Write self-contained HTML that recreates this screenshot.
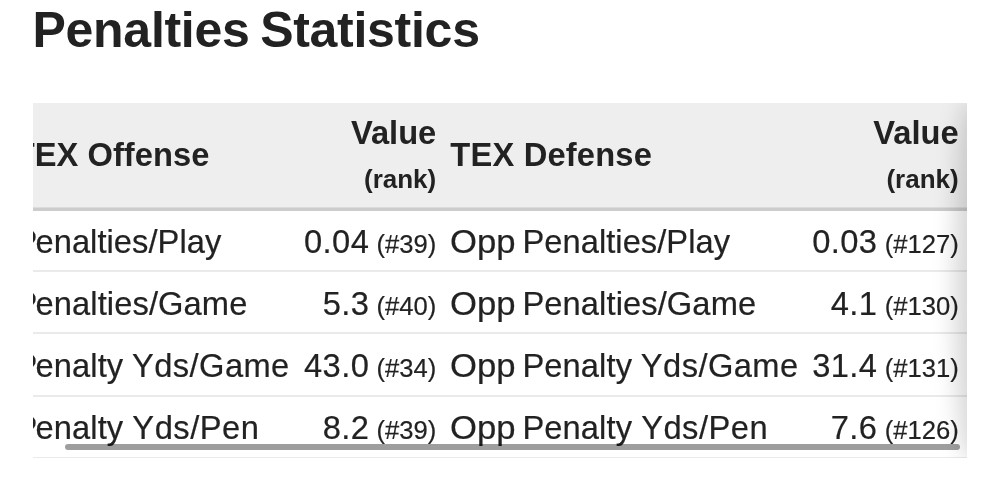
<!DOCTYPE html>
<html lang="en">
<head>
<meta charset="utf-8">
<title>Penalties Statistics</title>
<style>
  html, body { margin: 0; padding: 0; background: #fff; }
  body {
    width: 1000px; height: 483px; overflow: hidden; position: relative;
    font-family: "Liberation Sans", Arial, Helvetica, sans-serif;
    color: #222;
  }
  h2 {
    position: absolute; left: 32.5px; top: 3px; margin: 0;
    font-size: 50px; line-height: 54px; font-weight: bold; color: #222;
    white-space: nowrap; letter-spacing: -0.28px; word-spacing: -3px;
  }
  .scroller {
    position: absolute; left: 33px; top: 103px; width: 934px; height: 355px;
    overflow: hidden; background: #fff;
  }
  table {
    position: absolute; left: -26.75px; top: 0;
    border-collapse: separate; border-spacing: 0; table-layout: fixed; width: 961px;
    font-size: 32.67px;
  }
  th, td { padding: 0 8px; white-space: nowrap; overflow: visible; }
  thead th {
    background: #eee; border-bottom: 3px solid #ccc; box-shadow: inset 0 -1px 0 #dcdcdc;
    font-weight: bold; text-align: left; vertical-align: top; font-size: 32.67px;
    line-height: 46px; padding-top: 28.8px; padding-bottom: 0;
    letter-spacing: 0.2px;
  }
  thead th.c1 { letter-spacing: 0.05px; padding-left: 8.4px; }
  thead th.r { padding-top: 6.8px; padding-bottom: 6.2px; letter-spacing: 0; }
  th.k2, td.k2 { padding-right: 6px; }
  th.k4, td.k4 { padding-right: 8.6px; }
  thead th.r, td.r { text-align: right; }
  thead th small { display: block; font-size: 26px; line-height: 46px; letter-spacing: 0; }
  thead th .v { display: block; line-height: 46px; }
  tbody td {
    line-height: 40px; padding-top: 11px; padding-bottom: 9.13px;
    border-bottom: 2px solid #eaeaea; vertical-align: top;
    -webkit-text-stroke: 0.2px #222;
  }
  tbody tr:nth-child(1) td { padding-top: 11.2px; padding-bottom: 7.8px; }
  tbody tr:nth-child(2) td { padding-top: 11.6px; padding-bottom: 8.4px; }
  tbody tr:nth-child(3) td { padding-top: 11.7px; padding-bottom: 9.3px; }
  tbody tr:nth-child(4) td { padding-top: 10.9px; padding-bottom: 9.1px; }
  tbody td.r { letter-spacing: 0.4px; word-spacing: -2.2px; }
  tbody td.c1 { padding-left: 7.4px; }
  td small { font-size: 25.6px; line-height: 1; letter-spacing: 0; }
  .o { display: inline-block; transform-origin: 0 50%; transform: scaleX(1.062); margin-right: 1.4px; }
  .p1 { letter-spacing: 0.05px; } .p2 { letter-spacing: 0.1px; } .p3 { letter-spacing: 0.1px; }
  .y1 { letter-spacing: 0.42px; margin-left: -0.3px; } .y2 { letter-spacing: 0.5px; margin-left: 0; }
  tbody td.c1::first-letter { margin-left: 1.9px; margin-right: -1.9px; }
  .shadow {
    position: absolute; left: 100%; top: 0; width: 117px; height: 100%;
    border-radius: 13px 0 0 13px / 50% 0 0 50%;
    box-shadow: -11.7px 0 23.3px rgba(0,0,0,0.17);
  }
  .bar {
    position: absolute; left: 32px; top: 341px; width: 895px; height: 6px;
    border-radius: 3px; background: rgba(0,0,0,0.38);
  }
</style>
</head>
<body>
<h2>Penalties Statistics</h2>
<div class="scroller">
  <table>
    <colgroup><col style="width:286px"><col style="width:150px"><col style="width:360px"><col style="width:165px"></colgroup>
    <thead>
      <tr>
        <th class="c1">TEX Offense</th>
        <th class="r k2"><span class="v">Value</span> <small>(rank)</small></th>
        <th>TEX Defense</th>
        <th class="r k4"><span class="v">Value</span> <small>(rank)</small></th>
      </tr>
    </thead>
    <tbody>
      <tr><td class="c1"><span class="p1">Penalties/Play</span></td><td class="r k2">0.04 <small>(#39)</small></td><td><span class="o">Opp</span> <span class="p1">Penalties/Play</span></td><td class="r k4">0.03 <small>(#127)</small></td></tr>
      <tr><td class="c1"><span class="p2">Penalties/Game</span></td><td class="r k2">5.3 <small>(#40)</small></td><td><span class="o">Opp</span> <span class="p2">Penalties/Game</span></td><td class="r k4">4.1 <small>(#130)</small></td></tr>
      <tr><td class="c1"><span class="p3">Penalty</span> <span class="y1">Yds/Game</span></td><td class="r k2">43.0 <small>(#34)</small></td><td><span class="o">Opp</span> <span class="p3">Penalty</span> <span class="y1">Yds/Game</span></td><td class="r k4">31.4 <small>(#131)</small></td></tr>
      <tr><td class="c1"><span class="p3">Penalty</span> <span class="y2">Yds/Pen</span></td><td class="r k2">8.2 <small>(#39)</small></td><td><span class="o">Opp</span> <span class="p3">Penalty</span> <span class="y2">Yds/Pen</span></td><td class="r k4">7.6 <small>(#126)</small></td></tr>
    </tbody>
  </table>
  <div class="shadow"></div>
  <div class="bar"></div>
</div>
</body>
</html>
